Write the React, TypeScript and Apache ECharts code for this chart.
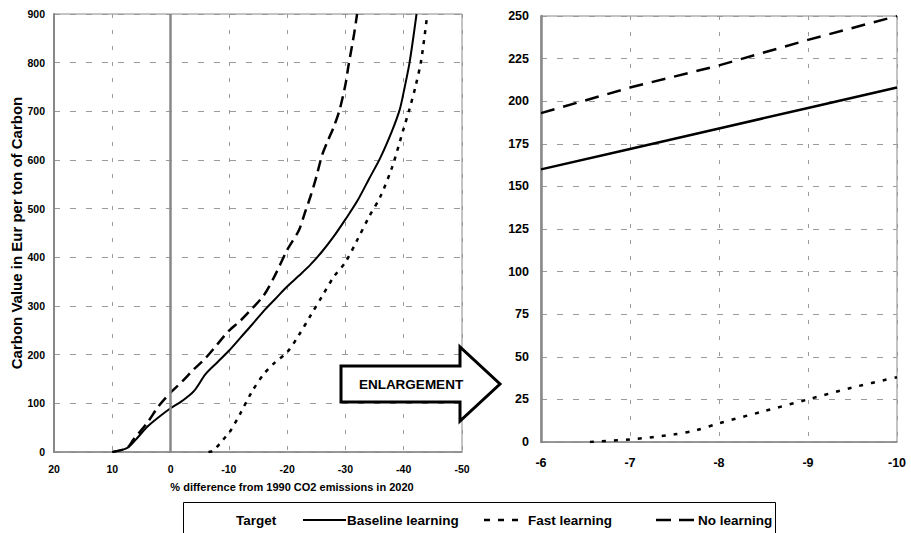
import React, { useEffect, useRef } from "react";
import * as echarts from "echarts";

// ---- Left chart data (x = % difference from 1990, y = Eur / t C)
const baselineX = [10, 7.5, 6, 4, 2, 0, -2, -4, -6, -8, -10, -12, -14, -16, -18, -20, -22, -24, -26, -28, -30, -32, -34, -36, -38, -39.3, -40, -41, -42.2];
const baselineY = [0, 8, 25, 52, 72, 90, 105, 125, 160, 184, 208, 235, 262, 290, 315, 340, 362, 385, 412, 443, 478, 515, 560, 605, 660, 703, 740, 800, 900];

const noLearnX = [10, 7.5, 6.4, 4, 2, 0, -2, -4, -6, -8, -10, -12, -14, -16, -18, -20, -22, -23, -24, -25, -26, -27, -28, -29, -30, -30.5, -31.5, -32];
const noLearnY = [0, 8, 25, 60, 95, 122, 145, 170, 193, 221, 249, 270, 295, 322, 365, 415, 455, 490, 525, 565, 610, 640, 668, 703, 755, 792, 860, 900];

const fastX = [-6.5, -7, -7.5, -7.7, -8, -8.5, -9, -9.5, -10, -12, -14, -16, -18, -20, -22, -24, -26, -28, -30, -32, -34, -36, -38, -40, -41, -42, -43, -44];
const fastY = [0, 1, 4, 6, 11, 18, 25, 32, 38, 80, 125, 160, 185, 205, 240, 280, 320, 360, 390, 435, 482, 525, 585, 665, 705, 750, 805, 895];

// ---- Right chart (enlargement) data
const zoomX = [-6, -7, -8, -9, -10];
const zoomBaseline = [160, 172, 184, 196, 208];
const zoomNoLearn = [193, 208, 221, 236, 250];
const zoomFastX = [-6.55, -7, -7.5, -7.75, -8, -8.5, -9, -9.5, -10];
const zoomFastY = [0, 1.5, 4.5, 7, 11, 18, 25, 32, 38];

const legendLabels = ["Target", "Baseline learning", "Fast learning", "No learning"];
const xTitle = "% difference from 1990 CO2 emissions in 2020";
const yTitle = "Carbon Value in Eur per ton of Carbon";
const arrowLabel = "ENLARGEMENT";

const FONT = "'Liberation Sans', Arial, sans-serif";
const GRID_GREY = "#9a9a9a";
const AXIS_GREY = "#888888";

const pairs = (xs: number[], ys: number[]) => xs.map((x, i) => [x, ys[i]]);

export default function App() {
  const ref = useRef<HTMLDivElement>(null);
  useEffect(() => {
    if (!ref.current) return;
    const chart = echarts.init(ref.current, undefined, { renderer: "svg" });

    const splitH = { show: true, lineStyle: { color: GRID_GREY, width: 1, type: [6, 10] as any } };
    const splitV = { show: true, lineStyle: { color: GRID_GREY, width: 1, type: [4, 12] as any } };

    const option: any = {
      animation: false,
      backgroundColor: "#ffffff",
      grid: [
        { left: 54, top: 14, width: 408, height: 438, show: true, borderColor: AXIS_GREY, borderWidth: 1 },
        { left: 541, top: 16, width: 356, height: 426, show: true, borderColor: AXIS_GREY, borderWidth: 1 },
      ],
      xAxis: [
        {
          type: "value", gridIndex: 0, min: -50, max: 20, interval: 10, inverse: true,
          axisLine: { show: true, onZero: false, lineStyle: { color: AXIS_GREY, width: 1.5 } },
          axisTick: { show: false },
          axisLabel: { color: "#000", fontFamily: FONT, fontWeight: "bold", fontSize: 10.5, margin: 11 },
          splitLine: splitV,
        },
        {
          type: "value", gridIndex: 1, min: -10, max: -6, interval: 1, inverse: true,
          axisLine: { show: true, onZero: false, lineStyle: { color: AXIS_GREY, width: 1.5 } },
          axisTick: { show: false },
          axisLabel: { color: "#000", fontFamily: FONT, fontWeight: "bold", fontSize: 12.5, margin: 14 },
          splitLine: splitV,
        },
      ],
      yAxis: [
        {
          type: "value", gridIndex: 0, min: 0, max: 900, interval: 100,
          axisLine: { show: true, onZero: false, lineStyle: { color: AXIS_GREY, width: 2 } },
          axisTick: { show: false },
          axisLabel: { color: "#000", fontFamily: FONT, fontWeight: "bold", fontSize: 10.5, margin: 9 },
          splitLine: splitH,
          name: yTitle, nameLocation: "middle", nameGap: 27,
          nameTextStyle: { color: "#000", fontFamily: FONT, fontWeight: "bold", fontSize: 15 },
        },
        {
          type: "value", gridIndex: 1, min: 0, max: 250, interval: 25,
          axisLine: { show: true, onZero: false, lineStyle: { color: AXIS_GREY, width: 2.5 } },
          axisTick: { show: false },
          axisLabel: { color: "#000", fontFamily: FONT, fontWeight: "bold", fontSize: 12.5, margin: 12 },
          splitLine: splitH,
        },
      ],
      series: [
        {
          name: "Baseline learning", type: "line", xAxisIndex: 0, yAxisIndex: 0, smooth: 0.3,
          showSymbol: false, symbol: "none", data: pairs(baselineX, baselineY),
          lineStyle: { color: "#000", width: 2, type: "solid" },
          markLine: {
            silent: true, symbol: "none", label: { show: false },
            lineStyle: { color: AXIS_GREY, width: 2.5, type: "solid" },
            data: [{ xAxis: 0 }],
          },
          z: 3,
        },
        {
          name: "Fast learning", type: "line", xAxisIndex: 0, yAxisIndex: 0, smooth: 0.3,
          showSymbol: false, symbol: "none", data: pairs(fastX, fastY),
          lineStyle: { color: "#000", width: 2.5, type: [4, 6] },
          z: 3,
        },
        {
          name: "No learning", type: "line", xAxisIndex: 0, yAxisIndex: 0, smooth: 0.3,
          showSymbol: false, symbol: "none", data: pairs(noLearnX, noLearnY),
          lineStyle: { color: "#000", width: 2.5, type: [11, 6] },
          z: 3,
        },
        {
          name: "Baseline learning zoom", type: "line", xAxisIndex: 1, yAxisIndex: 1,
          showSymbol: false, symbol: "none", data: pairs(zoomX, zoomBaseline),
          lineStyle: { color: "#000", width: 2.5, type: "solid" },
        },
        {
          name: "Fast learning zoom", type: "line", xAxisIndex: 1, yAxisIndex: 1, smooth: 0.3,
          showSymbol: false, symbol: "none", data: pairs(zoomFastX, zoomFastY),
          lineStyle: { color: "#000", width: 2.5, type: [4, 8] },
        },
        {
          name: "No learning zoom", type: "line", xAxisIndex: 1, yAxisIndex: 1,
          showSymbol: false, symbol: "none", data: pairs(zoomX, zoomNoLearn),
          lineStyle: { color: "#000", width: 2.5, type: [14, 9] },
        },
      ],
      graphic: [
        // enlargement arrow
        {
          type: "polygon", z: 10,
          shape: { points: [[341, 366], [460, 366], [460, 347], [500, 384], [460, 421], [460, 402], [341, 402]] },
          style: { fill: "#fff", stroke: "#000", lineWidth: 3 },
        },
        {
          type: "text", z: 11, x: 411, y: 384,
          style: { text: arrowLabel, fill: "#000", font: `bold 13.5px ${FONT}`, align: "center", verticalAlign: "middle" },
        },
        // x axis title
        {
          type: "text", x: 292, y: 487,
          style: { text: xTitle, fill: "#000", font: `bold 11px ${FONT}`, align: "center", verticalAlign: "middle" },
        },
        // legend box
        {
          type: "rect", shape: { x: 183.5, y: 502.5, width: 592, height: 40 },
          style: { fill: "#fff", stroke: "#000", lineWidth: 1 },
        },
        {
          type: "text", x: 236, y: 520,
          style: { text: legendLabels[0], fill: "#000", font: `bold 13.5px ${FONT}`, align: "left", verticalAlign: "middle" },
        },
        {
          type: "line", shape: { x1: 303, y1: 520, x2: 346, y2: 520 },
          style: { stroke: "#000", lineWidth: 2 },
        },
        {
          type: "text", x: 347, y: 520,
          style: { text: legendLabels[1], fill: "#000", font: `bold 13.5px ${FONT}`, align: "left", verticalAlign: "middle" },
        },
        {
          type: "line", shape: { x1: 484, y1: 520, x2: 526, y2: 520 },
          style: { stroke: "#000", lineWidth: 2.5, lineDash: [6, 8] },
        },
        {
          type: "text", x: 528, y: 520,
          style: { text: legendLabels[2], fill: "#000", font: `bold 13.5px ${FONT}`, align: "left", verticalAlign: "middle" },
        },
        {
          type: "line", shape: { x1: 656, y1: 520, x2: 697, y2: 520 },
          style: { stroke: "#000", lineWidth: 2.5, lineDash: [15, 8] },
        },
        {
          type: "text", x: 698, y: 520,
          style: { text: legendLabels[3], fill: "#000", font: `bold 13.5px ${FONT}`, align: "left", verticalAlign: "middle" },
        },
      ],
    };
    chart.setOption(option);
    return () => chart.dispose();
  }, []);

  return (
    <div
      ref={ref}
      style={{ position: "fixed", left: 0, top: 0, width: 911, height: 533, background: "#fff" }}
    />
  );
}
